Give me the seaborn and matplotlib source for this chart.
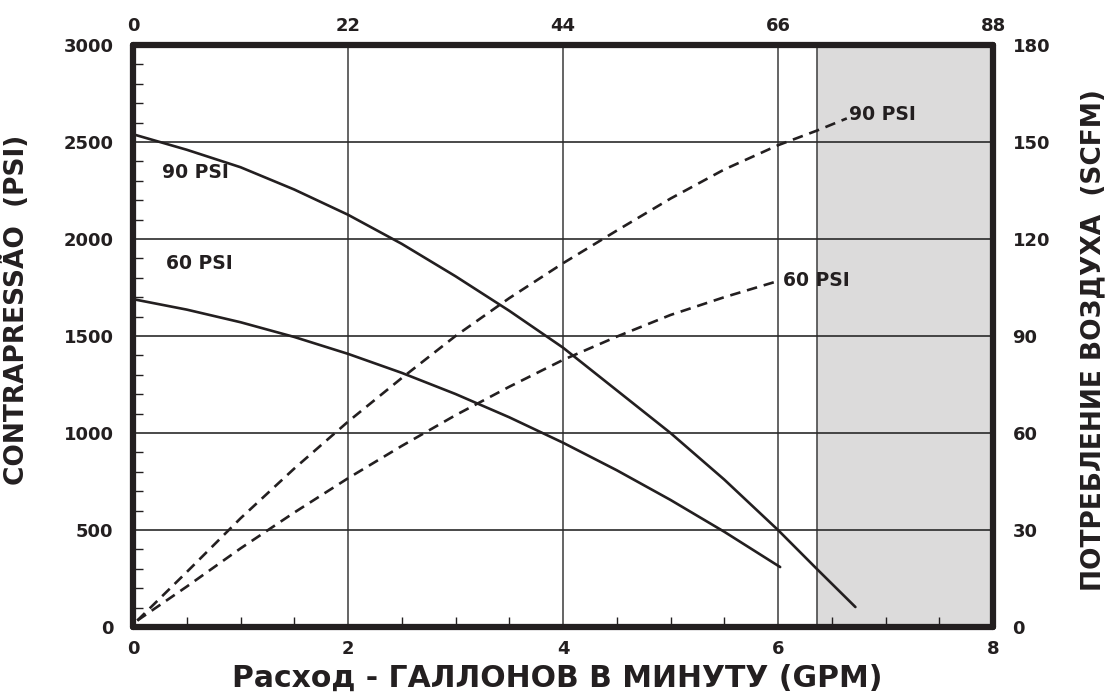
import numpy as np
import pandas as pd
import seaborn as sns
import matplotlib.pyplot as plt
from matplotlib.ticker import MultipleLocator

# Data
gpm_90 = [0, 0.5, 1, 1.5, 2, 2.5, 3, 3.5, 4, 4.5, 5, 5.5, 6, 6.36, 6.72]
psi_90 = [2540, 2460, 2370, 2255, 2125, 1975, 1808, 1630, 1440, 1220, 1000, 760, 500, 300, 103]

gpm_60 = [0, 0.5, 1, 1.5, 2, 2.5, 3, 3.5, 4, 4.5, 5, 5.5, 6.02]
psi_60 = [1690, 1636, 1571, 1495, 1408, 1310, 1201, 1081, 950, 808, 655, 491, 309]

air_gpm_90 = [0.04, 0.5, 1, 1.5, 2, 2.5, 3, 3.5, 4, 4.5, 5, 5.5, 6, 6.36, 6.64]
air_scfm_90 = [2, 17, 33.6, 49, 63.5, 77, 90, 101.7, 112.5, 122.6, 132.5, 141.5, 149, 153.5, 157.3]

air_gpm_60 = [0.04, 0.5, 1, 1.5, 2, 2.5, 3, 3.5, 4, 4.5, 5, 5.5, 6.0]
air_scfm_60 = [2, 12.5, 24.3, 35.4, 46, 56, 65.5, 74.3, 82.6, 89.8, 96.5, 102, 107]

shade_from = 6.36
x_ticks = [0, 2, 4, 6, 8]
top_ticks = [0, 22, 44, 66, 88]
left_ticks = [0, 500, 1000, 1500, 2000, 2500, 3000]
right_ticks = [0, 30, 60, 90, 120, 150, 180]

ink = '#231f20'

sns.set_theme(style='white')
plt.rcParams['font.family'] = ['DejaVu Sans']
plt.rcParams['font.weight'] = 'bold'

fig, ax = plt.subplots(figsize=(11.13, 6.98), dpi=100)
fig.subplots_adjust(left=133 / 1113, right=993 / 1113, bottom=1 - 627 / 698, top=1 - 45 / 698)

ax.set_xlim(0, 8)
ax.set_ylim(0, 3000)

# grey region past the recommended range
ax.axvspan(shade_from, 8, color='#dcdbdb', lw=0, zorder=0)

# grid
for v in x_ticks[1:-1] + [shade_from]:
    ax.axvline(v, color='#4a4a4a', lw=1.2, zorder=1)
for h in left_ticks[1:-1]:
    ax.axhline(h, color='#2a2a2a', lw=1.2, zorder=1)

# back-pressure curves
sns.lineplot(x=gpm_90, y=psi_90, ax=ax, color=ink, lw=1.9, zorder=3)
sns.lineplot(x=gpm_60, y=psi_60, ax=ax, color=ink, lw=1.9, zorder=3)

tick_size = 13
ax.set_xticks(x_ticks)
ax.set_yticks(left_ticks)
ax.xaxis.set_minor_locator(MultipleLocator(0.5))
ax.yaxis.set_minor_locator(MultipleLocator(100))
ax.tick_params(which='major', length=0, labelsize=tick_size, colors=ink)
ax.tick_params(axis='x', which='major', pad=9)
ax.tick_params(axis='y', which='major', pad=14)
ax.tick_params(which='minor', direction='in', length=7, width=1, color=ink)
ax.tick_params(axis='x', which='minor', bottom=True)
ax.tick_params(axis='y', which='minor', left=True)
for lab in ax.get_xticklabels() + ax.get_yticklabels():
    lab.set_fontweight('bold')

ax.set_xlabel('Расход - ГАЛЛОНОВ В МИНУТУ (GPM)', fontsize=21.5, fontweight='bold', color=ink)
ax.xaxis.set_label_coords(0.493, -0.064)
ax.set_ylabel('CONTRAPRESSÃO  (PSI)', fontsize=19, fontweight='bold', color=ink)
ax.yaxis.set_label_coords(-0.1198, 0.545)

ax.text(0.27, 2345, '90 PSI', fontsize=13.5, fontweight='bold', color=ink, va='center')
ax.text(0.31, 1876, '60 PSI', fontsize=13.5, fontweight='bold', color=ink, va='center')

# air consumption on the right axis
ax2 = ax.twinx()
ax2.set_ylim(0, 180)
sns.lineplot(x=air_gpm_90, y=air_scfm_90, ax=ax2, color=ink, lw=1.9)
sns.lineplot(x=air_gpm_60, y=air_scfm_60, ax=ax2, color=ink, lw=1.9)
for line in ax2.get_lines():
    line.set_dashes((4, 2.6))
ax2.set_yticks(right_ticks)
ax2.tick_params(length=0, labelsize=tick_size, colors=ink, pad=14)
for lab in ax2.get_yticklabels():
    lab.set_fontweight('bold')
ax2.set_ylabel('ПОТРЕБЛЕНИЕ ВОЗДУХА  (SCFM)', fontsize=19, fontweight='bold', color=ink)
ax2.yaxis.set_label_coords(1.1012, 0.493)
ax2.text(6.66, 158.4, '90 PSI', fontsize=13.5, fontweight='bold', color=ink, va='center')
ax2.text(6.05, 107.3, '60 PSI', fontsize=13.5, fontweight='bold', color=ink, va='center')

# top scale (GPM x 11)
top = ax.secondary_xaxis('top', functions=(lambda x: x * 11, lambda x: x / 11))
top.set_xticks(top_ticks)
top.tick_params(length=0, labelsize=tick_size, colors=ink, pad=7)
for lab in top.get_xticklabels():
    lab.set_fontweight('bold')

for a in (ax, ax2):
    for s in a.spines.values():
        s.set_visible(False)
for s in ax2.spines.values():
    s.set_visible(True)
    s.set_linewidth(4.5)
    s.set_color(ink)
    s.set_capstyle('round')

fig.savefig('out.png', dpi=100)
